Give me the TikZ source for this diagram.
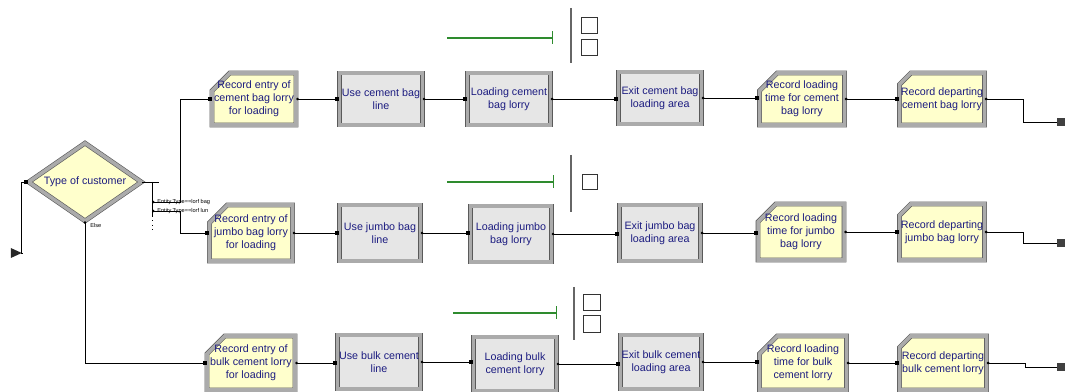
\documentclass[tikz,border=0pt]{standalone}
\usepackage{fontspec}
\setmainfont{Liberation Sans}
\usetikzlibrary{shapes.misc,shapes.geometric,arrows.meta}
\definecolor{modline}{HTML}{5A5A5A}
\definecolor{modband}{HTML}{ABABAB}
\definecolor{procfill}{HTML}{E6E6E6}
\definecolor{recfill}{HTML}{FFFFCC}
\definecolor{txt}{HTML}{1C1C80}
\definecolor{gline}{HTML}{2E8B2E}
\newcommand\mfont{\fontsize{6.1}{7.3}\selectfont}
\newcommand\sfont{\fontsize{3.2}{3.6}\selectfont}
\begin{document}
\begin{tikzpicture}[x=0.2mm,y=-0.2mm,
  mod/.style={draw=modline, line width=0.35pt, double=modband, double distance=2pt,
    font=\mfont, text=txt, align=center, inner sep=0pt},
  proc/.style={mod, rectangle, fill=procfill},
  rec/.style={mod, chamfered rectangle, chamfered rectangle corners=north west,
    chamfered rectangle sep=2.2mm, inner xsep=-2.2mm, inner ysep=-2.2mm, fill=recfill},
  dec/.style={mod, diamond, aspect=1.45, fill=recfill, minimum width=22.6mm, minimum height=15.6mm},
  conn/.style={draw=black, line width=0.5pt, arrows={Circle[length=0.5mm]}-{Square[length=0.8mm,width=0.8mm]}},
  wire/.style={draw=black, line width=0.5pt},
  sink/.style={rectangle, fill=black!75, minimum size=1.6mm, inner sep=0pt},
  lab/.style={font=\sfont, text=black, inner sep=0pt},
  gl/.style={draw=gline, line width=0.6pt, arrows=-{Bar[width=2.6mm,line width=0.6pt]}},
  gbar/.style={draw=black!60, line width=0.8pt},
  sq/.style={draw=black!80, line width=0.4pt},
  r1/.style={minimum height=10.4mm},
  r2/.style={minimum height=11.2mm},
  r3/.style={minimum height=10.8mm}
]
\useasboundingbox (0,0) rectangle (1065,392);

% decision
\node[dec] (dec) at (85,182) {Type of customer};
\node[isosceles triangle, fill=black!85, minimum width=2mm, minimum height=2.2mm, inner sep=0pt,
  isosceles triangle stretches] (src) at (14,253) {};
\coordinate (ent) at (21,182);
\draw[wire, arrows=-{Square[length=0.8mm,width=0.8mm]}] (src.east) -| (ent) -- (dec.west);

% row 1
\node[rec, r1, minimum width=16.8mm] (r1a) at (254,99) {Record entry of\\cement bag lorry\\for loading};
\node[proc, r1, minimum width=16.6mm] (r1b) at (381,99) {Use cement bag\\line};
\node[proc, r1, minimum width=16.6mm] (r1c) at (509,99) {Loading cement\\bag lorry};
\node[proc, r1, minimum width=16.6mm] (r1d) at (660,98) {Exit cement bag\\loading area};
\node[rec, r1, minimum width=17mm] (r1e) at (802,99) {Record loading\\time for cement\\bag lorry};
\node[rec, r1, minimum width=17mm] (r1f) at (942,99) {Record departing\\cement bag lorry};
\node[sink] (end1) at (1061,122) {};

% row 2
\node[rec, r2, minimum width=16.6mm] (r2a) at (251,233) {Record entry of\\jumbo bag lorry\\for loading};
\node[proc, r2, minimum width=16.2mm] (r2b) at (380,233) {Use jumbo bag\\line};
\node[proc, r2, minimum width=16.2mm] (r2c) at (511,234) {Loading jumbo\\bag lorry};
\node[proc, r2, minimum width=16.2mm] (r2d) at (660,233) {Exit jumbo bag\\loading area};
\node[rec, r2, minimum width=17.2mm] (r2e) at (801,232) {Record loading\\time for jumbo\\bag lorry};
\node[rec, r2, minimum width=17mm] (r2f) at (942,232) {Record departing\\jumbo bag lorry};
\node[sink] (end2) at (1061,243) {};

% row 3
\node[rec, r3, minimum width=17.6mm] (r3a) at (251,363) {Record entry of\\bulk cement lorry\\for loading};
\node[proc, r3, minimum width=16.6mm] (r3b) at (379,362) {Use bulk cement\\line};
\node[proc, r3, minimum width=16.6mm] (r3c) at (515,364) {Loading bulk\\cement lorry};
\node[proc, r3, minimum width=16.2mm] (r3d) at (661,362) {Exit bulk cement\\loading area};
\node[rec, r3, minimum width=17.4mm] (r3e) at (803,363) {Record loading\\time for bulk\\cement lorry};
\node[rec, r3, minimum width=17.4mm] (r3f) at (943,363) {Record departing\\bulk cement lorry};
\node[sink] (end3) at (1061,367) {};

% row connectors
\foreach \r in {1,2,3}{
  \draw[conn] (r\r a.east) -- (r\r a.east -| r\r b.west);
  \draw[conn] (r\r b.east) -- (r\r b.east -| r\r c.west);
  \draw[conn] (r\r c.east) -- (r\r c.east -| r\r d.west);
  \draw[conn] (r\r d.east) -- (r\r d.east -| r\r e.west);
  \draw[conn] (r\r e.east) -- (r\r e.east -| r\r f.west);
}
\coordinate (k1) at (1023,122);
\coordinate (k2) at (1023,243);
\coordinate (k3) at (1025,367);
\draw[wire, arrows={Circle[length=0.5mm]}-] (r1f.east) -| (k1) -- (end1.west);
\draw[wire, arrows={Circle[length=0.5mm]}-] (r2f.east) -| (k2) -- (end2.west);
\draw[wire, arrows={Circle[length=0.5mm]}-] (r3f.east) -| (k3) -- (end3.west);

% decision outputs
\coordinate (c0) at (159,182);
\coordinate (b0) at (152,182);
\coordinate (b1) at (152,216);
\coordinate (b2) at (152,232);
\coordinate (e1) at (152,202);
\coordinate (e2) at (152,211);
\coordinate (v1) at (180,202);
\coordinate (v2) at (180,211);
\draw[wire] (dec.east) -- (c0);
\draw[wire] (b0) -- (b1);
\draw[wire, dotted] (b1) -- (b2);
\draw[conn] (e1) -- (v1) |- (r1a.west);
\draw[conn] (e2) -- (v2) |- (r2a.west);
\draw[conn] (dec.south) |- (r3a.west);
\node[lab, anchor=west] (l1) at (157,202) {Entity.Type==lorf bag};
\node[lab, anchor=west] (l2) at (157,211) {Entity.Type==lorf lun};
\node[lab, anchor=west] (l3) at (90,225) {Else};

% green lines, bars and boxes
\coordinate (g1a) at (447,38);  \coordinate (g1b) at (553,38);
\coordinate (g2a) at (447,182); \coordinate (g2b) at (554,182);
\coordinate (g3a) at (453,313); \coordinate (g3b) at (557,313);
\draw[gl] (g1a) -- (g1b);
\draw[gl] (g2a) -- (g2b);
\draw[gl] (g3a) -- (g3b);
\draw[gbar] (571,8) -- (571,63);
\draw[gbar] (571,155) -- (571,212);
\draw[gbar] (574,287) -- (574,340);
\draw[sq] (581,17) rectangle (597,33);
\draw[sq] (581,39) rectangle (597,55);
\draw[sq] (582,174) rectangle (597,189);
\draw[sq] (583,294) rectangle (600,310);
\draw[sq] (583,315) rectangle (600,332);
\end{tikzpicture}
\end{document}
